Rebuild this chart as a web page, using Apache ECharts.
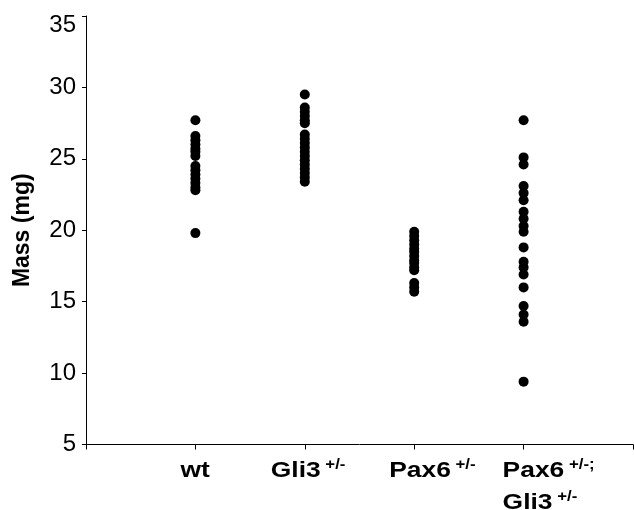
<!DOCTYPE html>
<html>
<head>
<meta charset="utf-8">
<script src="https://cdn.jsdelivr.net/npm/echarts@6/dist/echarts.min.js"></script>
<style>html,body{margin:0;padding:0;background:#fff}#c{width:634px;height:510px}</style>
</head>
<body>
<div id="c"></div>
<script>
// ---- data ----
var groupX = [1, 2, 3, 4];
var labelMain = [["wt"], ["Gli3"], ["Pax6"], ["Pax6", "Gli3"]];
var labelSup = [[""], ["+/-"], ["+/-"], ["+/-;", "+/-"]];
var wt = [27.7, 26.6, 26.3, 26.0, 25.7, 25.5, 25.2, 24.5, 24.2, 23.9, 23.6, 23.3, 23.0, 22.8, 19.8];
var gli3 = [29.5, 28.6, 28.3, 28.0, 27.7, 27.5, 26.7, 26.4, 26.1, 25.8, 25.5, 25.2, 24.9, 24.6, 24.3, 24.0, 23.7, 23.4];
var pax6 = [19.9, 19.6, 19.3, 19.0, 18.7, 18.5, 18.2, 17.9, 17.7, 17.4, 17.2, 16.3, 16.0, 15.7];
var pax6gli3 = [27.7, 25.1, 24.6, 23.1, 22.6, 22.1, 21.3, 20.8, 20.3, 19.9, 18.8, 17.8, 17.4, 16.9, 16.0, 14.7, 14.1, 13.6, 9.4];
var yTicks = {min: 5, max: 35, step: 5};
var xRange = {min: 0, max: 5, step: 1};

// ---- chart ----
var groups = [wt, gli3, pax6, pax6gli3];
var FONT = '"Liberation Sans", Arial, sans-serif';
var chart = echarts.init(document.getElementById('c'), null, {renderer: 'canvas'});
var series = groups.map(function (vals, i) {
  return {
    type: 'scatter',
    symbol: 'circle',
    symbolSize: 10,
    itemStyle: {color: '#000', opacity: 1},
    emphasis: {disabled: true},
    data: vals.map(function (v) { return [groupX[i], v]; })
  };
});
chart.setOption({
  animation: false,
  backgroundColor: '#fff',
  grid: {left: 86, right: 1, top: 16, bottom: 65.5, containLabel: false},
  xAxis: {
    type: 'value', min: xRange.min, max: xRange.max, interval: xRange.step,
    axisLine: {lineStyle: {color: '#000', width: 1}},
    axisTick: {show: true, inside: false, length: 5, lineStyle: {color: '#000'}},
    axisLabel: {show: false},
    splitLine: {show: false}
  },
  yAxis: {
    type: 'value', min: yTicks.min, max: yTicks.max, interval: yTicks.step,
    name: 'Mass (mg)', nameLocation: 'middle', nameGap: 52,
    nameTextStyle: {fontFamily: FONT, fontSize: 23, fontWeight: 'bold', color: '#000'},
    axisLine: {show: true, lineStyle: {color: '#000', width: 1}},
    axisTick: {show: true, inside: false, length: 4, lineStyle: {color: '#000'}},
    axisLabel: {
      fontFamily: FONT, fontSize: 24, color: '#000', margin: 10,
      formatter: function (v) { return v === yTicks.max ? '{t|' + v + '}' : String(v); },
      rich: {t: {fontFamily: FONT, fontSize: 24, color: '#000', padding: [18, 0, 0, 0]}}
    },
    splitLine: {show: false}
  },
  series: series
});

// category labels under the axis
var labelOffsets = [-15, -34, -25, -21];
var lineY = [471, 503];
var elems = [];
groupX.forEach(function (x, i) {
  var px = chart.convertToPixel({xAxisIndex: 0}, x);
  labelMain[i].forEach(function (t, j) {
    var rich = '{b|' + t + '}' + (labelSup[i][j] ? '{s| ' + labelSup[i][j] + '}' : '');
    elems.push({
      type: 'text', x: px + labelOffsets[i], y: lineY[j], scaleX: 1.2,
      style: {
        text: rich, align: 'left', verticalAlign: 'middle',
        rich: {
          b: {fontFamily: FONT, fontSize: 22, fontWeight: 'bold', fill: '#000', lineHeight: 26},
          s: {fontFamily: FONT, fontSize: 14, fontWeight: 'bold', fill: '#000', verticalAlign: 'top', lineHeight: 24}
        }
      }
    });
  });
});
chart.setOption({graphic: {elements: elems}});
</script>
</body>
</html>
